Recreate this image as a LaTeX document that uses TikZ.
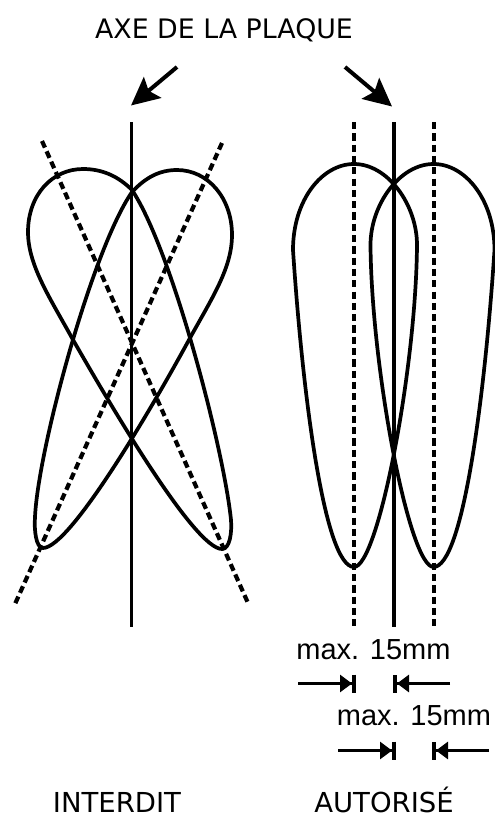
\documentclass[tikz,border=0pt]{standalone}
\usepackage{fontspec}
\setmainfont{DejaVu Sans}
\newfontfamily\arialfont{Liberation Sans}
\usetikzlibrary{arrows.meta}
\tikzset{
  lobe/.style={line width=3.7pt,line join=round},
  axis/.style={line width=3.9pt},
  dashaxis/.style={line width=4.2pt,dash pattern=on 7.2pt off 4.1pt},
  bigarrow/.style={line width=4pt,-{Stealth[length=28pt,width=27pt,inset=5pt]}},
  dim/.style={line width=3.6pt,-{Triangle[length=12pt,width=17pt]Bar[width=18pt,line width=4pt]}},
  title/.style={font=\fontsize{26.8pt}{30pt}\selectfont,anchor=base,inner sep=0pt},
  bottomlabel/.style={font=\fontsize{27.5pt}{30pt}\selectfont,anchor=base,inner sep=0pt},
  dimlabel/.style={font=\arialfont\fontsize{29pt}{32pt}\selectfont,anchor=base,inner sep=0pt}
}
\begin{document}
\begin{tikzpicture}[x=1pt,y=-1pt]
\useasboundingbox (0,0) rectangle (495,814);
% labels
\node[title] (top) at (224,38) {AXE DE LA PLAQUE};
\node[bottomlabel] (interdit) at (117,812) {INTERDIT};
\node[bottomlabel] (autorise) at (384,812) {AUTORISÉ};
\node[dimlabel] (maxa) at (373.5,659) {max. 15mm};
\node[dimlabel] (maxb) at (414,725) {max. 15mm};
% pointing arrows
\coordinate (a1s) at (177,67); \coordinate (a1e) at (131,105.5);
\coordinate (a2s) at (345,67); \coordinate (a2e) at (392,106.5);
\draw[bigarrow] (a1s) -- (a1e);
\draw[bigarrow] (a2s) -- (a2e);
% left figure axes
\coordinate (lt) at (131.5,122); \coordinate (lb) at (131.5,627);
\coordinate (dat) at (42,141); \coordinate (dab) at (248,603);
\coordinate (dbt) at (222,143); \coordinate (dbb) at (15,604);
\draw[axis] (lt) -- (lb);
\draw[dashaxis] (dat) -- (dab);
\draw[dashaxis] (dbt) -- (dbb);
% left figure lobes
\draw[lobe] (222,549) .. controls (230,549) and (232,532) .. (231,520)
  .. controls (224,450) and (172,250) .. (132,190)
  .. controls (118,176) and (102,169) .. (83,169)
  .. controls (52,169) and (28,195) .. (28,232)
  .. controls (28,265) and (50,298) .. (72,338)
  .. controls (112,408) and (195,549) .. cycle;
\draw[lobe] (43,548) .. controls (36,548) and (34,530) .. (35,517)
  .. controls (38,450) and (92,250) .. (132,192)
  .. controls (146,177) and (160,170) .. (177,170)
  .. controls (208,170) and (232,198) .. (232,235)
  .. controls (232,268) and (212,298) .. (190,338)
  .. controls (152,408) and (70,548) .. cycle;
% right figure axes
\coordinate (rt) at (394.3,122); \coordinate (rb) at (394.3,627);
\coordinate (rlt) at (354,122); \coordinate (rlb) at (354,627);
\coordinate (rrt) at (433.7,122); \coordinate (rrb) at (433.7,627);
\draw[axis] (rt) -- (rb);
\draw[dashaxis] (rlt) -- (rlb);
\draw[dashaxis] (rrt) -- (rrb);
% right figure lobes
\def\lobepath{(354,567) .. controls (325,567) and (303,400) .. (293,250)
  .. controls (293,200) and (322,164) .. (354,164)
  .. controls (388,164) and (417,205) .. (417,245)
  .. controls (416,370) and (378,567) .. cycle}
\draw[lobe] \lobepath;
\begin{scope}[xshift=787.5pt,xscale=-1]
\draw[lobe] \lobepath;
\end{scope}
% dimension arrows
\coordinate (d1a) at (298,683.5); \coordinate (d1b) at (356,683.5);
\coordinate (d2a) at (450,683.5); \coordinate (d2b) at (393,683.5);
\coordinate (d3a) at (338,750.5); \coordinate (d3b) at (396,750.5);
\coordinate (d4a) at (489,750.5); \coordinate (d4b) at (432,750.5);
\draw[dim] (d1a) -- (d1b);
\draw[dim] (d2a) -- (d2b);
\draw[dim] (d3a) -- (d3b);
\draw[dim] (d4a) -- (d4b);
\end{tikzpicture}
\end{document}
